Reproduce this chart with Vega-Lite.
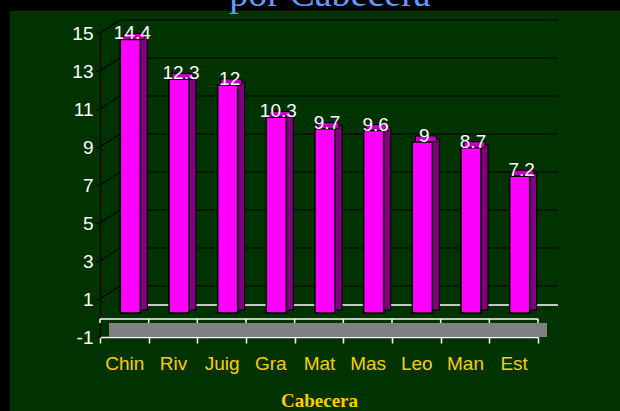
{
  "$schema": "https://vega.github.io/schema/vega-lite/v6.json",
  "width": 610,
  "height": 400,
  "autosize": {"type": "none"},
  "padding": {"left": 10, "top": 11, "right": 0, "bottom": 0},
  "background": "#000000",
  "title": {
    "text": "por Cabecera",
    "font": "Liberation Serif",
    "fontSize": 38,
    "fontWeight": "normal",
    "color": "#6699FF",
    "anchor": "middle",
    "frame": "group",
    "baseline": "alphabetic",
    "offset": -33,
    "dx": 15
  },
  "datasets": {
    "bars": [
      {"cat": "Chin", "v": 14.4},
      {"cat": "Riv", "v": 12.3},
      {"cat": "Juig", "v": 12},
      {"cat": "Gra", "v": 10.3},
      {"cat": "Mat", "v": 9.7},
      {"cat": "Mas", "v": 9.6},
      {"cat": "Leo", "v": 9},
      {"cat": "Man", "v": 8.7},
      {"cat": "Est", "v": 7.2}
    ],
    "grid": [
      {"g": 1}, {"g": 3}, {"g": 5}, {"g": 7}, {"g": 9}, {"g": 11}, {"g": 13}, {"g": 15}
    ],
    "one": [{"id": 1}]
  },
  "layer": [
    {
      "data": {"name": "grid"},
      "mark": {"type": "rule", "color": "#000000", "strokeWidth": 1.2, "xOffset": 20, "x2Offset": 20, "yOffset": -13},
      "encoding": {
        "x": {
          "datum": "Chin", "type": "nominal", "bandPosition": 0, "title": "Cabecera",
          "scale": {"domain": ["Chin", "Riv", "Juig", "Gra", "Mat", "Mas", "Leo", "Man", "Est"], "range": [90, 528], "paddingInner": 0, "paddingOuter": 0},
          "axis": {
            "orient": "bottom", "offset": -74, "domainColor": "#FFFFFF", "domainWidth": 1.5,
            "tickColor": "#FFFFFF", "tickSize": 6, "tickWidth": 1.5, "tickBand": "extent",
            "labelColor": "#FFCC00", "labelFont": "Liberation Sans", "labelFontSize": 19, "labelPadding": 11, "labelAngle": 0,
            "titleColor": "#FFCC00", "titleFont": "Liberation Serif", "titleFontWeight": "bold", "titleFontSize": 19, "titlePadding": 18
          }
        },
        "x2": {"datum": "Est", "bandPosition": 1},
        "y": {
          "field": "g", "type": "quantitative", "title": null,
          "scale": {"domain": [-1, 15], "range": [326, 22], "nice": false, "zero": false},
          "axis": {
            "orient": "left", "offset": -90, "values": [-1, 1, 3, 5, 7, 9, 11, 13, 15], "grid": false,
            "labelExpr": "replace(datum.label, '−', '-')",
            "domainColor": "#000000", "domainWidth": 1.2, "tickColor": "#000000", "tickSize": 4, "tickWidth": 1.2,
            "labelColor": "#FFFFFF", "labelFont": "Liberation Sans", "labelFontSize": 19, "labelPadding": 3
          }
        }
      }
    },
    {
      "data": {"name": "grid"},
      "mark": {"type": "rule", "color": "#000000", "strokeWidth": 1.2, "x2Offset": 20, "y2Offset": -13},
      "encoding": {
        "x": {"datum": "Chin", "type": "nominal", "bandPosition": 0},
        "x2": {"datum": "Chin", "bandPosition": 0},
        "y": {"field": "g", "type": "quantitative", "title": null},
        "y2": {"field": "g"}
      }
    },
    {
      "data": {"name": "one"},
      "mark": {"type": "rule", "color": "#FFFFFF", "strokeWidth": 1.5, "xOffset": 20, "x2Offset": 20, "yOffset": -13},
      "encoding": {
        "x": {"datum": "Chin", "type": "nominal", "bandPosition": 0},
        "x2": {"datum": "Est", "bandPosition": 1},
        "y": {"datum": 0, "type": "quantitative"}
      }
    },
    {
      "data": {"name": "one"},
      "mark": {"type": "rect", "color": "#808080", "xOffset": 9, "x2Offset": 9, "yOffset": 5},
      "encoding": {
        "x": {"datum": "Chin", "type": "nominal", "bandPosition": 0},
        "x2": {"datum": "Est", "bandPosition": 1},
        "y": {"datum": 0, "type": "quantitative"},
        "y2": {"datum": -1}
      }
    },
    {
      "data": {"name": "one"},
      "mark": {"type": "rule", "color": "#FFFFFF", "strokeWidth": 1.5, "yOffset": 1},
      "encoding": {
        "x": {"datum": "Chin", "type": "nominal", "bandPosition": 0},
        "x2": {"datum": "Est", "bandPosition": 1},
        "y": {"datum": 0, "type": "quantitative"}
      }
    },
    {
      "data": {"name": "bars"},
      "mark": {"type": "rule", "color": "#FFFFFF", "strokeWidth": 1.5, "yOffset": 1, "y2Offset": 5},
      "encoding": {
        "x": {"field": "cat", "type": "nominal", "bandPosition": 0, "title": "Cabecera", "sort": null},
        "y": {"datum": 0, "type": "quantitative"},
        "y2": {"datum": 0}
      }
    },
    {
      "data": {"name": "one"},
      "mark": {"type": "rule", "color": "#FFFFFF", "strokeWidth": 1.5, "yOffset": 1, "y2Offset": 5},
      "encoding": {
        "x": {"datum": "Est", "type": "nominal", "bandPosition": 1},
        "y": {"datum": 0, "type": "quantitative"},
        "y2": {"datum": 0}
      }
    },
    {
      "data": {"name": "bars"},
      "mark": {"type": "bar", "width": 7, "fill": "#800080", "stroke": "#000000", "strokeWidth": 1, "xOffset": 19.5, "yOffset": -8, "y2Offset": -8},
      "encoding": {
        "x": {"field": "cat", "type": "nominal", "title": "Cabecera", "sort": null},
        "y": {"field": "v", "type": "quantitative", "title": null},
        "y2": {"datum": 0}
      }
    },
    {
      "data": {"name": "bars"},
      "mark": {"type": "bar", "width": 21, "fill": "#C000C0", "stroke": "#000000", "strokeWidth": 1, "xOffset": 9.5, "yOffset": -11, "y2Offset": -5},
      "encoding": {
        "x": {"field": "cat", "type": "nominal", "title": "Cabecera", "sort": null},
        "y": {"field": "v", "type": "quantitative", "title": null},
        "y2": {"field": "v"}
      }
    },
    {
      "data": {"name": "bars"},
      "mark": {"type": "bar", "width": 20, "fill": "#FF00FF", "stroke": "#000000", "strokeWidth": 1.5, "xOffset": 6, "yOffset": -5, "y2Offset": -5},
      "encoding": {
        "x": {"field": "cat", "type": "nominal", "title": "Cabecera", "sort": null},
        "y": {"field": "v", "type": "quantitative", "title": null},
        "y2": {"datum": 0}
      }
    },
    {
      "data": {"name": "bars"},
      "mark": {"type": "text", "color": "#FFFFFF", "font": "Liberation Sans", "fontSize": 19, "baseline": "alphabetic", "align": "center", "xOffset": 8, "yOffset": -5},
      "encoding": {
        "x": {"field": "cat", "type": "nominal", "title": "Cabecera", "sort": null},
        "y": {"field": "v", "type": "quantitative", "title": null},
        "text": {"field": "v", "type": "quantitative"}
      }
    }
  ],
  "config": {
    "view": {"stroke": null, "fill": "#003300"}
  }
}
